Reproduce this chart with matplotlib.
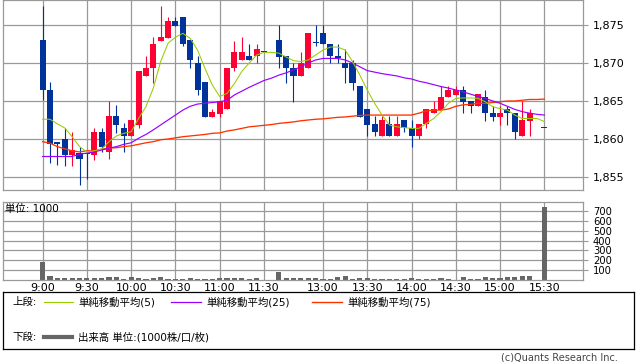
import numpy as np
import matplotlib
matplotlib.use('Agg')
from matplotlib import pyplot as plt

plt.rcParams['font.family'] = ['DejaVu Sans', 'Noto Sans CJK JP']

# 5-minute slots, 9:00 .. 15:30 (slot 31 = lunch gap, slot 67 = no trade)
tick_slots = [0, 6, 12, 18, 24, 30, 38, 44, 50, 56, 62, 68]
tick_labels = ['9:00', '9:30', '10:00', '10:30', '11:00', '11:30',
               '13:00', '13:30', '14:00', '14:30', '15:00', '15:30']

opens = [1873.0, 1866.4, 1859.5, 1860.0, 1857.9, 1858.2, 1858.2, 1857.9, 1860.9, 1858.3,
         1863.0, 1861.4, 1860.4, 1861.9, 1868.3, 1869.4, 1872.9, 1873.3, 1875.5, 1876.0,
         1873.0, 1870.0, 1867.5, 1862.9, 1863.3, 1863.9, 1869.4, 1870.4, 1870.9, 1870.9,
         1871.4, None, 1873.0, 1870.9, 1869.4, 1868.3, 1869.4, 1872.8, 1874.0, 1872.5,
         1870.9, 1870.0, 1870.0, 1867.0, 1864.0, 1862.0, 1860.4, 1862.0, 1860.4, 1862.5,
         1861.4, 1860.4, 1862.0, 1863.4, 1863.8, 1865.5, 1865.8, 1866.4, 1865.0, 1864.4,
         1865.5, 1863.4, 1862.9, 1864.0, 1863.4, 1860.4, 1862.4, None, 1861.5]
highs = [1877.5, 1867.5, 1859.5, 1861.4, 1860.9, 1859.0, 1858.2, 1861.5, 1861.5, 1865.0,
         1864.5, 1862.1, 1862.5, 1869.0, 1870.9, 1873.4, 1877.5, 1876.1, 1876.0, 1876.0,
         1873.0, 1870.9, 1867.5, 1864.0, 1865.0, 1869.4, 1872.9, 1873.4, 1872.5, 1872.5,
         1871.4, None, 1875.0, 1870.9, 1870.0, 1871.4, 1874.0, 1875.0, 1875.0, 1872.5,
         1872.5, 1871.9, 1870.4, 1867.0, 1864.0, 1863.0, 1863.0, 1863.0, 1863.0, 1862.5,
         1862.5, 1862.0, 1864.0, 1865.0, 1867.0, 1867.0, 1867.0, 1867.0, 1865.0, 1865.9,
         1866.4, 1864.4, 1864.4, 1864.4, 1863.4, 1865.0, 1864.0, None, 1861.5]
lows = [1865.1, 1856.9, 1856.6, 1856.4, 1856.4, 1853.9, 1854.7, 1857.3, 1858.3, 1857.4,
        1860.8, 1858.3, 1860.4, 1861.4, 1868.3, 1867.4, 1872.9, 1873.3, 1874.9, 1872.3,
        1869.4, 1865.8, 1862.9, 1862.9, 1862.9, 1863.9, 1868.9, 1870.4, 1870.4, 1870.0,
        1871.4, None, 1869.4, 1867.4, 1864.9, 1868.3, 1869.4, 1872.3, 1872.5, 1870.0,
        1870.0, 1867.4, 1866.4, 1862.9, 1860.4, 1860.4, 1860.4, 1860.4, 1860.4, 1860.9,
        1858.9, 1860.0, 1861.4, 1863.4, 1863.8, 1865.5, 1865.8, 1863.4, 1863.4, 1864.4,
        1862.4, 1862.4, 1861.8, 1861.8, 1860.0, 1860.4, 1860.4, None, 1861.5]
closes = [1866.4, 1859.4, 1859.4, 1857.9, 1858.5, 1857.4, 1858.0, 1860.9, 1858.9, 1863.0,
          1861.9, 1860.4, 1862.5, 1869.0, 1869.4, 1872.5, 1873.4, 1875.5, 1874.9, 1872.5,
          1870.4, 1866.4, 1862.9, 1863.5, 1865.0, 1869.4, 1871.4, 1871.4, 1870.4, 1871.9,
          1871.4, None, 1870.8, 1869.4, 1868.3, 1870.0, 1874.0, 1872.6, 1872.5, 1870.9,
          1870.6, 1869.4, 1867.4, 1862.9, 1861.9, 1860.9, 1862.5, 1860.4, 1862.0, 1861.4,
          1860.4, 1862.0, 1864.0, 1864.0, 1865.5, 1866.5, 1866.4, 1864.9, 1864.4, 1865.9,
          1863.4, 1862.9, 1863.4, 1863.4, 1860.9, 1862.5, 1863.4, None, 1861.5]

volume = [179, 46, 23, 23, 23, 23, 23, 23, 23, 33, 33, 13, 33, 23, 13, 23, 33, 13, 13, 13,
          23, 13, 13, 13, 23, 23, 23, 23, 13, 23, 5, 0, 80, 23, 23, 23, 23, 23, 13, 13,
          33, 40, 13, 23, 23, 13, 13, 13, 13, 13, 23, 13, 13, 13, 23, 13, 5, 33, 13, 13,
          36, 28, 28, 36, 36, 43, 43, 0, 733]

ma5 = [1862.6, 1862.6, 1862.0, 1861.45, 1860.3, 1859.0, 1858.3, 1858.45, 1858.7, 1859.65,
       1860.4, 1860.75, 1860.95, 1862.7, 1864.25, 1866.7, 1870.2, 1872.6, 1873.4, 1873.9,
       1873.25, 1871.7, 1869.3, 1867.1, 1865.6, 1866.0, 1867.3, 1868.9, 1870.0, 1871.05,
       1871.4, 1871.4, 1871.3, 1870.8, 1870.3, 1870.2, 1870.4, 1871.05, 1871.7, 1872.1,
       1872.1, 1871.7, 1870.2, 1868.4, 1866.45, 1864.7, 1863.15, 1861.85, 1861.6, 1861.5,
       1861.4, 1861.4, 1862.05, 1862.7, 1863.6, 1864.7, 1865.35, 1865.4, 1865.4, 1865.35,
       1864.9, 1864.25, 1864.0, 1863.8, 1863.15, 1862.7, 1862.7, 1862.7, 1862.3]
ma25 = [1857.7, 1857.7, 1857.7, 1857.7, 1857.7, 1858.0, 1858.15, 1858.3, 1858.55, 1858.8,
        1859.0, 1859.3, 1859.5, 1860.1, 1860.6, 1861.2, 1861.85, 1862.5, 1863.15, 1863.8,
        1864.3, 1864.6, 1864.7, 1864.8, 1864.9, 1865.1, 1865.8, 1866.3, 1866.8, 1867.25,
        1867.7, 1868.0, 1868.4, 1868.7, 1869.1, 1869.5, 1870.0, 1870.4, 1870.6, 1870.6,
        1870.6, 1870.4, 1870.0, 1869.5, 1869.0, 1868.8, 1868.6, 1868.45, 1868.3, 1868.05,
        1867.9, 1867.6, 1867.4, 1867.15, 1866.9, 1866.7, 1866.45, 1866.2, 1865.9, 1865.6,
        1865.35, 1865.0, 1864.7, 1864.3, 1863.9, 1863.6, 1863.4, 1863.25, 1863.15]
ma75 = [1859.65, 1859.45, 1859.0, 1858.7, 1858.45, 1858.3, 1858.45, 1858.45, 1858.65, 1858.8,
        1858.85, 1859.0, 1859.1, 1859.3, 1859.5, 1859.65, 1859.9, 1860.0, 1860.15, 1860.3,
        1860.4, 1860.5, 1860.6, 1860.75, 1860.8, 1861.05, 1861.2, 1861.4, 1861.6, 1861.7,
        1861.8, 1861.9, 1862.05, 1862.15, 1862.25, 1862.4, 1862.5, 1862.6, 1862.65, 1862.75,
        1862.85, 1862.9, 1863.0, 1863.1, 1863.15, 1863.15, 1863.15, 1863.15, 1863.15, 1863.15,
        1863.15, 1863.4, 1863.7, 1863.8, 1863.8, 1863.95, 1864.3, 1864.5, 1864.55, 1864.7,
        1864.7, 1864.8, 1864.9, 1865.0, 1865.0, 1865.1, 1865.2, 1865.2, 1865.25]

RED = '#ff0033'
BLUE = '#003399'
GRID = '#999999'

o = np.array(opens, dtype=float)
h = np.array(highs, dtype=float)
l = np.array(lows, dtype=float)
c = np.array(closes, dtype=float)
slots = np.arange(len(o))
ok = ~np.isnan(o)
cols = np.where(c > o, RED, BLUE)

fig = plt.figure(figsize=(6.38, 3.62), dpi=100)
W, H = 638.0, 362.0
x0, x1 = 3.3, 582.7
ax1 = fig.add_axes([x0 / W, 1 - 190 / H, (x1 - x0) / W, 190 / H])
ax2 = fig.add_axes([x0 / W, 1 - 280.3 / H, (x1 - x0) / W, 78.6 / H])

for ax in (ax1, ax2):
    ax.set_xlim(-5.33, 73.2)
    ax.set_xticks(tick_slots)
    ax.grid(True, color=GRID, lw=0.9)
    ax.set_axisbelow(True)
    ax.yaxis.tick_right()
    ax.tick_params(axis='y', length=3.4, width=0.8, color=GRID, pad=3.9)
    ax.tick_params(axis='x', length=0, pad=2)
    for sp in ax.spines.values():
        sp.set_color(GRID)
        sp.set_linewidth(0.9)

# candles
ax1.vlines(slots[ok], l[ok], h[ok], colors=cols[ok], lw=0.8, zorder=2)
body_lo = np.minimum(o, c)
body_h = np.maximum(np.abs(c - o), 0.14)
ax1.bar(slots[ok], body_h[ok], bottom=body_lo[ok], width=0.82, color=cols[ok],
        linewidth=0, zorder=2)
ax1.plot(slots, ma75, color='#ff3300', lw=0.95, zorder=3)
ax1.plot(slots, ma25, color='#9900ff', lw=0.85, zorder=3)
ax1.plot(slots, ma5, color='#99cc00', lw=0.75, zorder=3)
ax1.set_ylim(1853.29, 1878.29)
ax1.set_yticks([1855, 1860, 1865, 1870, 1875])
ax1.set_yticklabels(['1,855', '1,860', '1,865', '1,870', '1,875'], fontsize=8)
ax1.set_xticklabels([])

# volume
ax2.bar(slots, volume, width=0.7, color='#666666', linewidth=0, zorder=2)
ax2.set_ylim(0, 790)
ax2.set_yticks([100, 200, 300, 400, 500, 600, 700])
ax2.set_yticklabels(['100', '200', '300', '400', '500', '600', '700'], fontsize=7.2)
ax2.set_xticklabels(tick_labels, fontsize=8)
fig.text(5 / W, 1 - 209 / H, '単位: 1000', fontsize=7.5, va='center', ha='left')

# legend box
lg = fig.add_axes([3 / W, 1 - 349 / H, 631 / W, 57 / H])
lg.set_xlim(0, 631)
lg.set_ylim(57, 0)
lg.set_xticks([])
lg.set_yticks([])
for sp in lg.spines.values():
    sp.set_color('black')
    sp.set_linewidth(0.9)
lg.text(9, 10, '上段:', fontsize=7.5, va='center')
lg.plot([41, 70], [10, 10], color='#99cc00', lw=0.8)
lg.text(75, 10, '単純移動平均(5)', fontsize=7.5, va='center')
lg.plot([168, 198], [10, 10], color='#9900ff', lw=0.9)
lg.text(203, 10, '単純移動平均(25)', fontsize=7.5, va='center')
lg.plot([309, 339], [10, 10], color='#ff3300', lw=1.0)
lg.text(344, 10, '単純移動平均(75)', fontsize=7.5, va='center')
lg.text(9, 45, '下段:', fontsize=7.5, va='center')
lg.plot([41, 69], [45, 45], color='#666666', lw=3)
lg.text(75, 45, '出来高 単位:(1000株/口/枚)', fontsize=7.5, va='center')

fig.text(618 / W, 1 - 357 / H, '(c)Quants Research Inc.', fontsize=7, ha='right',
         va='center', color='#444444')

fig.savefig('out.png', dpi=100)
